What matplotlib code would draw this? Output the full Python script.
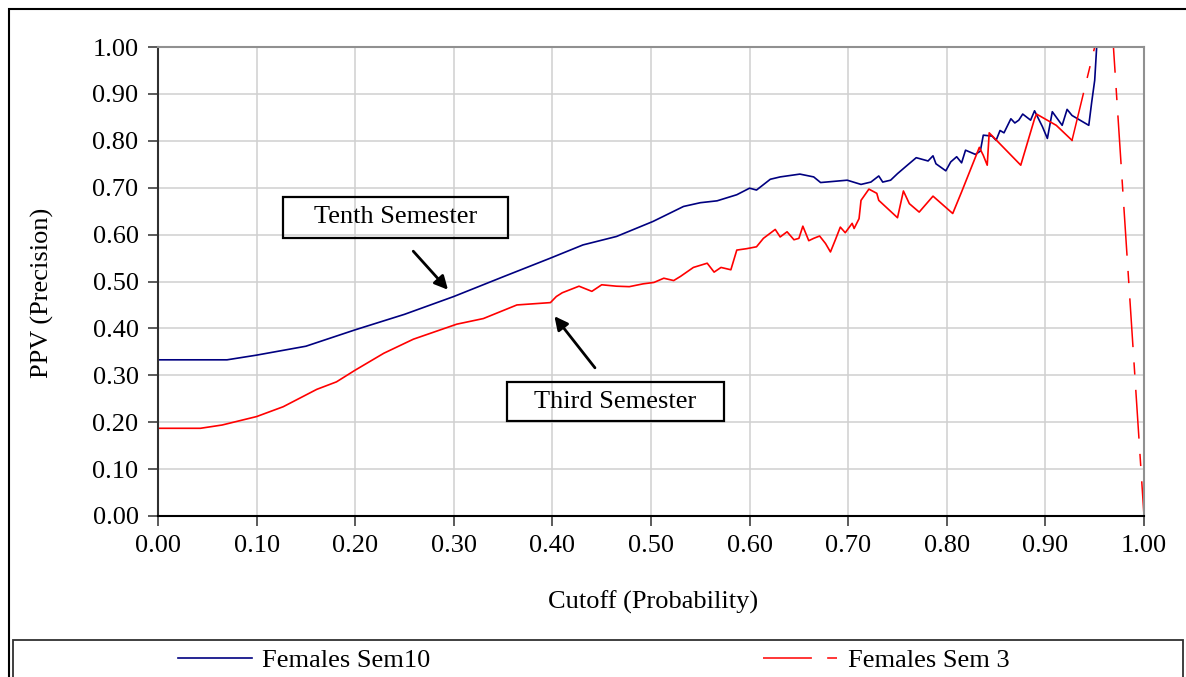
import matplotlib.pyplot as plt
from matplotlib.patches import Rectangle

plt.rcParams["font.family"] = ["Liberation Serif", "DejaVu Serif"]

# values
sem10_x = [0.00, 0.07, 0.10, 0.15, 0.20, 0.25, 0.30, 0.35, 0.397, 0.431, 0.465, 0.502,
           0.533, 0.550, 0.567, 0.587, 0.600, 0.607, 0.621, 0.631, 0.651, 0.665, 0.672,
           0.699, 0.713, 0.723, 0.731, 0.735, 0.743, 0.750, 0.760, 0.769, 0.781, 0.786,
           0.789, 0.799, 0.804, 0.810, 0.815, 0.819, 0.829, 0.834, 0.837, 0.846, 0.850,
           0.854, 0.858, 0.865, 0.869, 0.873, 0.877, 0.885, 0.889, 0.897, 0.902, 0.907,
           0.917, 0.922, 0.927, 0.944, 0.947, 0.950, 0.952, 1.00]
sem10_y = [0.333, 0.333, 0.343, 0.362, 0.397, 0.430, 0.468, 0.510, 0.549, 0.578, 0.596, 0.628,
           0.660, 0.668, 0.672, 0.685, 0.699, 0.695, 0.718, 0.723, 0.729, 0.723, 0.711,
           0.716, 0.707, 0.712, 0.725, 0.712, 0.716, 0.730, 0.748, 0.764, 0.757, 0.768,
           0.751, 0.736, 0.755, 0.766, 0.753, 0.780, 0.771, 0.778, 0.812, 0.810, 0.801,
           0.822, 0.817, 0.847, 0.838, 0.844, 0.857, 0.844, 0.864, 0.830, 0.805, 0.862,
           0.833, 0.867, 0.854, 0.833, 0.883, 0.929, 1.00, 1.00]

sem3_x = [0.00, 0.043, 0.065, 0.10, 0.127, 0.161, 0.181, 0.20, 0.229, 0.259, 0.303, 0.33,
          0.364, 0.398, 0.404, 0.41, 0.427, 0.44, 0.45, 0.465, 0.478, 0.492, 0.503, 0.513,
          0.523, 0.53, 0.543, 0.557, 0.564, 0.571, 0.581, 0.587, 0.597, 0.607, 0.614,
          0.626, 0.631, 0.638, 0.645, 0.650, 0.654, 0.660, 0.665, 0.671, 0.677, 0.682,
          0.687, 0.692, 0.697, 0.704, 0.706, 0.711, 0.713, 0.721, 0.729, 0.731, 0.750,
          0.756, 0.762, 0.772, 0.786, 0.806, 0.815, 0.833, 0.837, 0.841, 0.843, 0.875,
          0.889, 0.891, 0.911, 0.927]
sem3_y = [0.187, 0.187, 0.194, 0.212, 0.233, 0.270, 0.286, 0.311, 0.347, 0.377, 0.409, 0.421,
          0.450, 0.455, 0.468, 0.476, 0.490, 0.479, 0.493, 0.490, 0.489, 0.495, 0.498, 0.507,
          0.502, 0.511, 0.530, 0.539, 0.520, 0.530, 0.525, 0.567, 0.570, 0.574, 0.592,
          0.611, 0.595, 0.606, 0.589, 0.592, 0.618, 0.587, 0.592, 0.597, 0.581, 0.563,
          0.589, 0.616, 0.604, 0.624, 0.613, 0.634, 0.673, 0.697, 0.688, 0.673, 0.636,
          0.693, 0.666, 0.648, 0.682, 0.645, 0.691, 0.786, 0.769, 0.748, 0.817, 0.748,
          0.847, 0.857, 0.833, 0.801]
# last long segments of the Sem 3 series (drawn dashed like in the source)
sem3_tail_x = [0.927, 0.950, 0.969, 1.00]
sem3_tail_y = [0.801, 1.00, 1.00, 0.00]

ticks = [i / 10 for i in range(11)]
tick_labels = [f"{t:.2f}" for t in ticks]

FS = 19

fig = plt.figure(figsize=(11.86, 6.77), dpi=100)
ax = fig.add_axes([158 / 1186, 1 - 516 / 677, 986 / 1186, 469 / 677])

ax.plot(sem10_x, sem10_y, color="#000080", lw=1.2, label="Females Sem10")
dash = (0, (32, 10, 8, 10))
ax.plot(sem3_x, sem3_y, color="#ff0000", lw=1.2)
ax.plot(sem3_tail_x, sem3_tail_y, color="#ff0000", lw=1.1, linestyle=dash)
ax.plot([], [], color="#ff0000", lw=1.1, linestyle=dash, label="Females Sem 3")

ax.set_xlim(0, 1)
ax.set_ylim(0, 1)
ax.set_xticks(ticks)
ax.set_xticklabels(tick_labels)
ax.set_yticks(ticks)
ax.set_yticklabels(tick_labels)
ax.tick_params(labelsize=FS, direction="out", length=7, width=1.2, color="#404040", pad=7)
ax.grid(True, color="#d0d0d0", lw=1.1)
ax.set_axisbelow(True)
for side in ["top", "right"]:
    ax.spines[side].set_color("#909090")
    ax.spines[side].set_linewidth(1.5)
ax.spines["left"].set_color("#303030")
ax.spines["left"].set_linewidth(1.5)
ax.spines["bottom"].set_color("black")
ax.spines["bottom"].set_linewidth(1.5)

fig.text(653 / 1186, 1 - 602 / 677, "Cutoff (Probability)", fontsize=FS, ha="center", va="center")
fig.text(42 / 1186, 1 - 293 / 677, "PPV (Precision)", fontsize=FS, ha="center", va="center",
         rotation=90)

# callout boxes
ax.add_patch(Rectangle((0.1268, 0.593), 0.2282, 0.087, fill=False, edgecolor="black", lw=1.6,
                       zorder=5))
ax.text(0.241, 0.6365, "Tenth Semester", fontsize=FS, ha="center", va="center", zorder=6)
ax.annotate("", xy=(0.296, 0.478), xytext=(0.257, 0.569),
            arrowprops=dict(arrowstyle="-|>", color="black", lw=2, mutation_scale=20), zorder=6)

ax.add_patch(Rectangle((0.354, 0.2026), 0.220, 0.0831, fill=False, edgecolor="black", lw=1.6,
                       zorder=5))
ax.text(0.464, 0.244, "Third Semester", fontsize=FS, ha="center", va="center", zorder=6)
ax.annotate("", xy=(0.4003, 0.4307), xytext=(0.4449, 0.3113),
            arrowprops=dict(arrowstyle="-|>", color="black", lw=2, mutation_scale=20), zorder=6)

# outer chart border and legend box (both run off the bottom/right edge)
fig.add_artist(Rectangle((9 / 1186, -0.1), 1.1, 1 - 9 / 677 + 0.1, fill=False,
                         edgecolor="black", lw=1.5, transform=fig.transFigure))
fig.add_artist(Rectangle((13 / 1186, -0.1), 1170 / 1186, 1 - 640 / 677 + 0.1, fill=False,
                         edgecolor="#303030", lw=1.3, transform=fig.transFigure))
fig.legend(loc="center left", bbox_to_anchor=(178 / 1186, 1 - 660 / 677), ncol=2,
           frameon=False, fontsize=FS, handlelength=2.8, handletextpad=0.4,
           columnspacing=12.6, borderpad=0, borderaxespad=0)

fig.savefig("out.png", dpi=100)
